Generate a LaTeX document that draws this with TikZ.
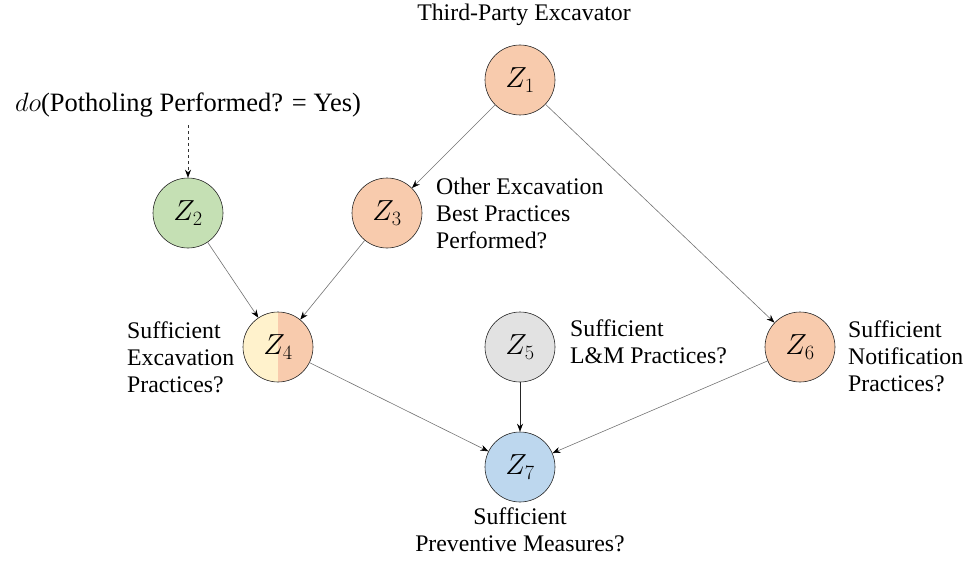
\RequirePackage{fix-cm}
\documentclass[tikz,border=0pt]{standalone}
\usepackage{fontspec}
\setmainfont{Liberation Serif}
\usetikzlibrary{arrows.meta}
\definecolor{corange}{HTML}{F8CBAD}
\definecolor{cgreen}{HTML}{C5E0B4}
\definecolor{cgray}{HTML}{E2E2E2}
\definecolor{cblue}{HTML}{BDD7EE}
\definecolor{cyellow}{HTML}{FFF2CC}
\begin{document}
\begin{tikzpicture}[x=1pt,y=-1pt,
  var/.style={circle,draw=black!85,line width=0.6pt,minimum size=70pt,inner sep=0pt,
    font=\fontsize{29}{29}\selectfont},
  lbl/.style={inner sep=0pt,font=\fontsize{23.8}{27}\selectfont},
  edge/.style={draw=black!55,line width=0.6pt,-{Stealth[length=8pt,width=6pt,black]}},
]
\useasboundingbox (0,0) rectangle (966,567);
\node[var,fill=corange] (z1) at (520,80) {$Z_1$};
\node[var,fill=cgreen] (z2) at (188,213) {$Z_2$};
\node[var,fill=corange] (z3) at (387,213) {$Z_3$};
\node[var,fill=corange,path picture={\fill[cyellow] (path picture bounding box.south west) rectangle (path picture bounding box.north);}] (z4) at (278,347) {$Z_4$};
\node[var,fill=cgray] (z5) at (520,347) {$Z_5$};
\node[var,fill=corange] (z6) at (800,347) {$Z_6$};
\node[var,fill=cblue] (z7) at (520,467) {$Z_7$};

\node[lbl] (t1) at (524,15) {Third-Party Excavator};
\node[lbl,font=\fontsize{26.5}{30}\selectfont] (do) at (188,105) {$do$(Potholing Performed? = Yes)};
\node[lbl,anchor=west,align=left] (t3) at (436,213) {Other Excavation\\Best Practices\\Performed?};
\node[lbl,anchor=west,align=left] (t4) at (127,357) {Sufficient\\Excavation\\Practices?};
\node[lbl,anchor=west,align=left] (t5) at (570,342) {Sufficient\\L\&M Practices?};
\node[lbl,anchor=west,align=left] (t6) at (848,356) {Sufficient\\Notification\\Practices?};
\node[lbl,anchor=north,align=center] (t7) at (520,508) {Sufficient\\Preventive Measures?};

\draw[edge,dashed,draw=black!80] (do.south -| z2) ++(0,8) -- (z2);
\draw[edge] (z1) -- (z3);
\draw[edge] (z1) -- (z6);
\draw[edge] (z2) -- (z4);
\draw[edge] (z3) -- (z4);
\draw[edge] (z4) -- (z7);
\draw[edge,draw=black!85] (z5) -- (z7);
\draw[edge] (z6) -- (z7);
\end{tikzpicture}
\end{document}
